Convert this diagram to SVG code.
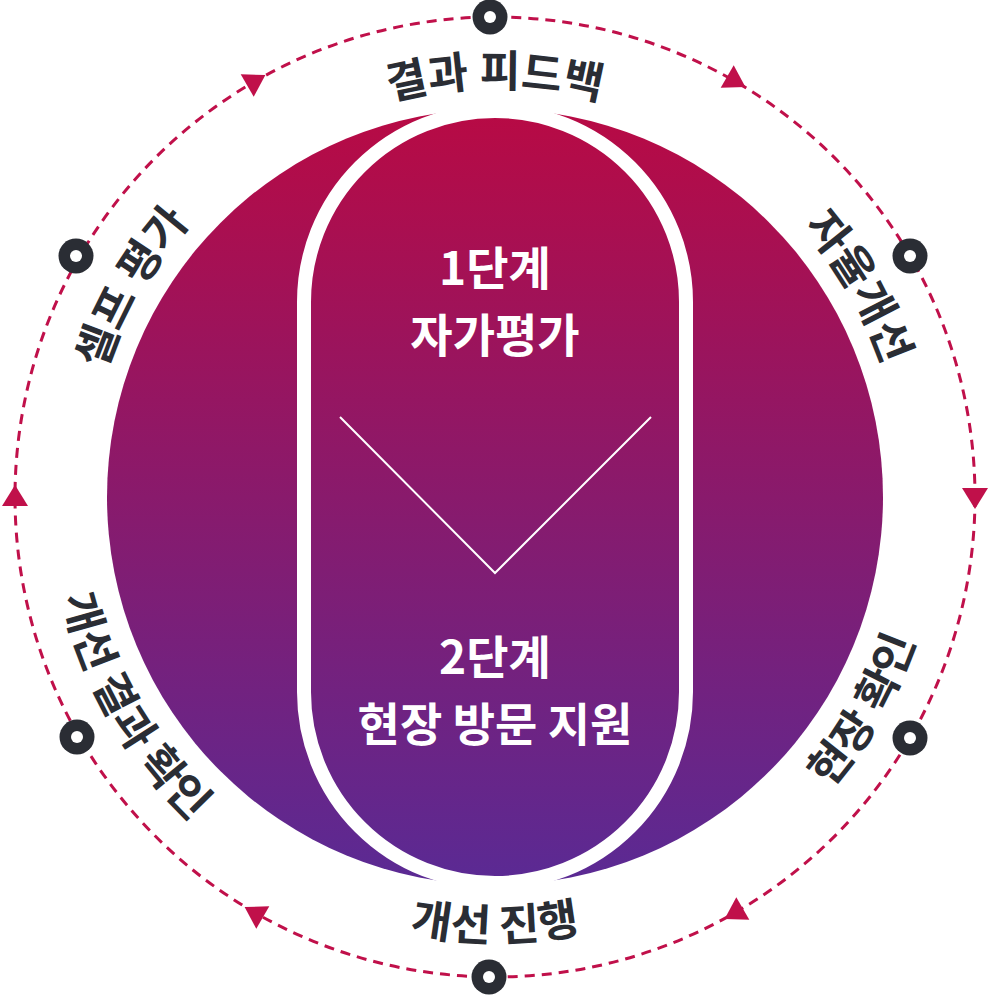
<svg xmlns="http://www.w3.org/2000/svg" xmlns:xlink="http://www.w3.org/1999/xlink" width="990" height="995" viewBox="0 0 990 995">
  <style>
    .lbl { font-family: "Noto Sans CJK KR", "Noto Sans", sans-serif; font-weight: 700; font-size: 44px; fill: #2a2d34; }
    .inner { font-family: "Noto Sans CJK KR", "Noto Sans", sans-serif; font-weight: 700; font-size: 46px; fill: #ffffff; text-anchor: middle; }
    .dash { fill: none; stroke: #c0104a; stroke-width: 3; stroke-dasharray: 10 7; }
    .arrow { fill: #c0104a; }
    .dot { fill: #2a2d34; }
    .dot-in { fill: #ffffff; }
  </style>
  <defs>
    <linearGradient id="grad" x1="0" y1="109" x2="0" y2="885" gradientUnits="userSpaceOnUse">
      <stop offset="0" stop-color="#b80a44"/>
      <stop offset="1" stop-color="#5a2a94"/>
    </linearGradient>
    <path id="cw" d="M495,907 A410,410 0 0 1 495,87 A410,410 0 0 1 495,907"/>
    <path id="ccw" d="M495,53 A444,444 0 0 0 495,941 A444,444 0 0 0 495,53"/>
    <path id="arr" d="M12,0 L-9,-13 L-9,13 Z"/>
  </defs>

  <g id="main-circle">
    <circle cx="495" cy="497" r="388" fill="url(#grad)"/>
    <rect x="304" y="111" width="382" height="772" rx="191" ry="191" fill="none" stroke="#ffffff" stroke-width="14"/>
    <polyline points="340,417 495,573 651,417" fill="none" stroke="#ffffff" stroke-width="2"/>
  </g>

  <g id="stage1">
    <text class="inner" x="495" y="285">1단계</text>
    <text class="inner" x="495" y="352">자가평가</text>
  </g>

  <g id="stage2">
    <text class="inner" x="495" y="674">2단계</text>
    <text class="inner" x="495" y="741">현장 방문 지원</text>
  </g>

  <g id="connectors">
    <circle class="dash" cx="495" cy="497" r="480"/>
    <use href="#arr" class="arrow" transform="translate(255,81) rotate(-30)"/>
    <use href="#arr" class="arrow" transform="translate(735,81) rotate(30)"/>
    <use href="#arr" class="arrow" transform="translate(975,497) rotate(90)"/>
    <use href="#arr" class="arrow" transform="translate(735,913) rotate(150)"/>
    <use href="#arr" class="arrow" transform="translate(255,913) rotate(210)"/>
    <use href="#arr" class="arrow" transform="translate(15,497) rotate(270)"/>
  </g>

  <g id="dots">
    <g id="dot-top"><circle class="dot" cx="490" cy="17" r="17.5"/><circle class="dot-in" cx="490" cy="17" r="6"/></g>
    <g id="dot-ur"><circle class="dot" cx="910" cy="256" r="17.5"/><circle class="dot-in" cx="910" cy="256" r="6"/></g>
    <g id="dot-lr"><circle class="dot" cx="910" cy="738" r="17.5"/><circle class="dot-in" cx="910" cy="738" r="6"/></g>
    <g id="dot-bottom"><circle class="dot" cx="489" cy="977" r="17.5"/><circle class="dot-in" cx="489" cy="977" r="6"/></g>
    <g id="dot-ll"><circle class="dot" cx="77" cy="737" r="17.5"/><circle class="dot-in" cx="77" cy="737" r="6"/></g>
    <g id="dot-ul"><circle class="dot" cx="76" cy="256" r="17.5"/><circle class="dot-in" cx="76" cy="256" r="6"/></g>
  </g>

  <g id="label-top">
    <text class="lbl"><textPath href="#cw" startOffset="50%" text-anchor="middle">결과 피드백</textPath></text>
  </g>
  <g id="label-ur">
    <text class="lbl"><textPath href="#cw" startOffset="66.667%" text-anchor="middle">자율개선</textPath></text>
  </g>
  <g id="label-ul">
    <text class="lbl"><textPath href="#cw" startOffset="33.333%" text-anchor="middle">셀프 평가</textPath></text>
  </g>
  <g id="label-bottom">
    <text class="lbl"><textPath href="#ccw" startOffset="50%" text-anchor="middle">개선 진행</textPath></text>
  </g>
  <g id="label-lr">
    <text class="lbl"><textPath href="#ccw" startOffset="66.667%" text-anchor="middle">현장 확인</textPath></text>
  </g>
  <g id="label-ll">
    <text class="lbl"><textPath href="#ccw" startOffset="33.333%" text-anchor="middle">개선 결과 확인</textPath></text>
  </g>
</svg>
